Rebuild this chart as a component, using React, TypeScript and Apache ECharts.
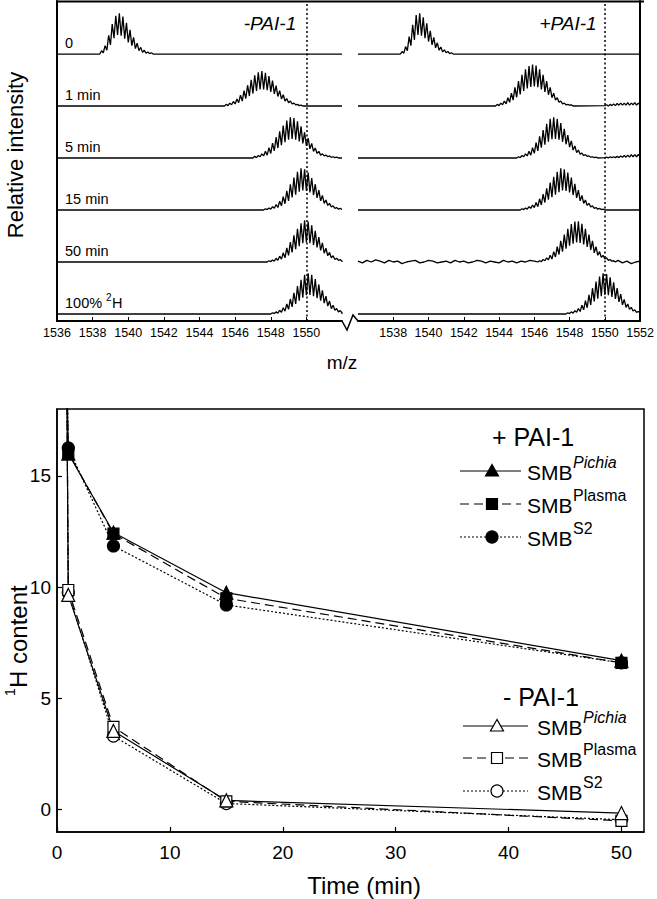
import React, { useEffect, useRef } from "react";
import * as echarts from "echarts";

const FONT = '"Liberation Sans", Arial, Helvetica, sans-serif';

// ---------------- Top panel: mass spectra ----------------
const mzMin = 1536;
const mzMax = 1552;
const mzInterval = 2;
const referenceMz = 1550;
const spectrumLabels = ["0", "1 min", "5 min", "15 min", "50 min", "100%"];

// Each envelope: first m/z, then alternating trough / peak intensities every 0.1 m/z (0-100)
const minusStart = [1538.4, 1545.4, 1547.0, 1547.6, 1547.8, 1548.0];
const minus0 = [0, 8, 3, 20, 9, 45, 22, 72, 38, 92, 46, 98, 44, 90, 37, 75, 28, 58, 20, 40, 13, 26, 8, 16, 4, 9, 2, 5, 1, 3, 0];
const minus1 = [0, 4, 1, 7, 3, 11, 5, 17, 8, 26, 12, 37, 18, 50, 24, 63, 30, 74, 36, 81, 40, 84, 40, 80, 38, 72, 34, 61, 29, 49, 23, 37, 17, 27, 12, 18, 8, 12, 5, 7, 3, 4, 1, 2, 0];
const minus5 = [0, 4, 1, 6, 3, 10, 5, 16, 7, 25, 11, 36, 17, 50, 24, 64, 31, 78, 38, 90, 44, 98, 46, 96, 44, 88, 40, 76, 35, 62, 29, 48, 22, 35, 16, 24, 11, 16, 7, 10, 5, 7, 3, 5, 2, 3, 1, 2, 0];
const minus15 = [0, 3, 1, 5, 2, 8, 4, 13, 6, 21, 10, 32, 15, 46, 22, 62, 30, 78, 37, 92, 44, 100, 47, 98, 46, 90, 42, 77, 36, 62, 29, 48, 22, 35, 16, 24, 11, 16, 7, 10, 4, 6, 2, 4, 1];
const minus50 = [0, 3, 1, 5, 2, 9, 4, 14, 7, 22, 10, 34, 16, 48, 23, 64, 31, 80, 38, 93, 45, 100, 47, 97, 45, 88, 41, 75, 35, 60, 28, 46, 21, 33, 15, 23, 10, 15, 6, 9, 4, 6, 2];
const minus100 = [0, 3, 1, 5, 2, 9, 4, 15, 7, 24, 11, 36, 17, 51, 24, 67, 32, 82, 39, 94, 45, 98, 46, 94, 43, 84, 38, 71, 32, 57, 26, 43, 19, 31, 13, 21, 9, 13, 5, 8, 3];

const plusStart = [1538.4, 1543.8, 1545.0, 1545.2, 1546.2, 1547.8];
const plus0 = [0, 6, 2, 18, 8, 42, 20, 70, 34, 94, 46, 98, 44, 88, 38, 74, 30, 56, 22, 40, 15, 27, 9, 17, 5, 10, 3, 6, 1, 3, 0];
const plus1 = [0, 4, 1, 7, 3, 12, 5, 20, 9, 31, 14, 45, 21, 60, 28, 75, 36, 88, 42, 96, 46, 100, 47, 97, 45, 88, 40, 75, 34, 60, 27, 45, 20, 31, 14, 20, 9, 12, 5, 7, 3, 4, 2, 3, 0];
const plus5 = [0, 3, 1, 6, 3, 10, 5, 16, 7, 25, 11, 37, 17, 52, 25, 67, 32, 82, 39, 94, 45, 98, 46, 94, 44, 84, 39, 70, 33, 55, 26, 41, 19, 29, 13, 19, 9, 12, 6, 8, 4, 5, 2, 3, 1, 2, 0];
const plus15 = [0, 3, 1, 5, 2, 8, 4, 12, 6, 18, 8, 27, 12, 38, 18, 52, 25, 66, 31, 80, 37, 92, 43, 100, 47, 98, 46, 90, 42, 78, 36, 63, 29, 48, 22, 35, 16, 24, 11, 16, 7, 10, 4, 6, 2, 4, 1, 2, 0];
const plus50 = [0, 3, 1, 6, 3, 10, 5, 16, 7, 25, 12, 37, 18, 51, 25, 66, 32, 80, 39, 91, 44, 97, 47, 98, 46, 92, 42, 80, 36, 66, 29, 51, 22, 37, 16, 25, 11, 16, 7, 10, 4, 6, 2, 3, 0];
const plus100 = [0, 3, 1, 5, 2, 8, 4, 13, 6, 21, 10, 32, 15, 46, 22, 62, 30, 78, 37, 90, 43, 98, 46, 96, 45, 88, 41, 76, 36, 62, 29, 48, 22, 35, 16, 24, 11, 16, 7, 10, 4, 6, 2];

// ripples after m/z 1550 (every 0.1 from 1550.0)
const plus1TailStart = 1550.0;
const plus1Tail = [1, 3, 0, 4, 1, 5, 1, 6, 2, 7, 2, 7, 2, 8, 2, 7, 3, 8, 2, 7, 3];
const plus5TailStart = 1550.0;
const plus5Tail = [1, 2, 0, 3, 1, 3, 1, 4, 1, 5, 2, 6, 2, 7, 2, 8, 3, 8, 3, 9, 3];
// noisy baseline of +PAI-1 50 min (every 0.25 m/z)
const plus50NoiseBeforeStart = 1536.0;
const plus50NoiseBefore = [2, -2, 4, 0, 5, 2, -2, 4, 0, 2, -4, 0, 2, 4, -2, 0, 4, 2, -2, 0, 2, -2, 4, 0, 2, -2, 0, 4, 2, -2, 2, 0, -2, 4, 0, 2, -2, 2, 0, 4, 2];
const plus50NoiseAfterStart = 1550.75;
const plus50NoiseAfter = [4, -2, 2, -4, 0, 2];

// ---------------- Bottom panel: 1H content ----------------
const timeMin = [1, 5, 15, 50];
const startTime = 0.86;
const startContent = 20;
const plusPichia = [16.0, 12.45, 9.75, 6.7];
const plusPlasma = [16.05, 12.4, 9.5, 6.6];
const plusS2 = [16.25, 11.85, 9.2, 6.6];
const minusPichia = [9.65, 3.54, 0.42, -0.15];
const minusPlasma = [9.87, 3.72, 0.38, -0.5];
const minusS2 = [9.75, 3.31, 0.28, -0.45];
const timeTicks = [0, 10, 20, 30, 40, 50];
const contentTicks = [0, 5, 10, 15];

// ---------------- helpers ----------------
const ROW_SCALE = 0.008; // intensity 100 -> 0.8 row
type Extra = { start: number; step: number; vals: number[] };

function spectrum(start: number, vals: number[], row: number, lead?: Extra, tail?: Extra) {
  const offset = 5 - row;
  const pts: number[][] = [];
  if (lead) lead.vals.forEach((v, i) => pts.push([lead.start + i * lead.step, v]));
  else pts.push([mzMin, 0]);
  vals.forEach((v, i) => pts.push([Math.round((start + i * 0.1) * 100) / 100, v]));
  if (tail) tail.vals.forEach((v, i) => pts.push([tail.start + i * tail.step, v]));
  else pts.push([mzMax, 0]);
  return pts.map(([x, v]) => [x, offset + v * ROW_SCALE]);
}

const minusSets = [minus0, minus1, minus5, minus15, minus50, minus100];
const plusSets = [plus0, plus1, plus5, plus15, plus50, plus100];

function specSeries(data: number[][], gridIdx: number, withMark: boolean) {
  const s: any = {
    type: "line",
    xAxisIndex: gridIdx,
    yAxisIndex: gridIdx,
    data,
    showSymbol: false,
    symbol: "none",
    clip: true,
    lineStyle: { color: "#000", width: 1.3 },
    silent: true,
    z: 3,
  };
  if (withMark) {
    s.markLine = {
      silent: true,
      symbol: "none",
      label: { show: false },
      lineStyle: { color: "#000", width: 1.5, type: [2, 2.5] },
      data: [{ xAxis: referenceMz }],
    };
  }
  return s;
}

function contentSeries(name: string, vals: number[], symbol: string, size: number, filled: boolean, dash: any) {
  const data: any[] = [{ value: [startTime, startContent], symbol: "none" }];
  timeMin.forEach((t, i) => data.push([t, vals[i]]));
  return {
    name,
    type: "line",
    xAxisIndex: 2,
    yAxisIndex: 2,
    data,
    symbol,
    symbolSize: size,
    showAllSymbol: true,
    clip: true,
    lineStyle: { color: "#000", width: 1.2, type: dash },
    itemStyle: { color: filled ? "#000" : "#fff", borderColor: "#000", borderWidth: 1.2 },
    z: 4,
  };
}

function marker(kind: string, x: number, y: number, filled: boolean) {
  const style = { fill: filled ? "#000" : "#fff", stroke: "#000", lineWidth: 1.2 };
  if (kind === "triangle")
    return { type: "polygon", shape: { points: [[x, y - 6.5], [x - 6.5, y + 5], [x + 6.5, y + 5]] }, style, z: 101 };
  if (kind === "rect")
    return { type: "rect", shape: { x: x - 5.5, y: y - 5.5, width: 11, height: 11 }, style, z: 101 };
  return { type: "circle", shape: { cx: x, cy: y, r: 6 }, style, z: 101 };
}

const legendDefs = [
  { sup: "Pichia", italic: true, kind: "triangle", dash: null as any },
  { sup: "Plasma", italic: false, kind: "rect", dash: [9, 5] },
  { sup: "S2", italic: false, kind: "circle", dash: [2, 2] },
];

function legendBlock(title: string, titleX: number, titleY: number, rowsY: number[], x1: number, x2: number, mx: number, tx: number, filled: boolean) {
  const els: any[] = [
    {
      type: "text",
      x: titleX,
      y: titleY,
      z: 101,
      style: { text: title, font: `25px ${FONT}`, fill: "#000", align: "center", verticalAlign: "middle" },
    },
  ];
  legendDefs.forEach((d, i) => {
    const y = rowsY[i];
    els.push({
      type: "line",
      z: 100,
      shape: { x1, y1: y, x2, y2: y },
      style: { stroke: "#000", lineWidth: 1.2, lineDash: d.dash },
    });
    els.push(marker(d.kind, mx, y, filled));
    els.push({
      type: "text",
      x: tx,
      y: y + 1,
      z: 101,
      style: { text: "SMB", font: `21px ${FONT}`, fill: "#000", align: "left", verticalAlign: "middle" },
    });
    els.push({
      type: "text",
      x: tx + 46,
      y: y - 9,
      z: 101,
      style: {
        text: d.sup,
        font: `${d.italic ? "italic " : ""}16px ${FONT}`,
        fill: "#000",
        align: "left",
        verticalAlign: "middle",
      },
    });
  });
  return els;
}

const plainNumber = (v: number) => String(v);

function buildOption() {
  const series: any[] = [];
  minusSets.forEach((vals, r) => series.push(specSeries(spectrum(minusStart[r], vals, r), 0, r === 0)));
  plusSets.forEach((vals, r) => {
    let lead: Extra | undefined;
    let tail: Extra | undefined;
    if (r === 1) tail = { start: plus1TailStart, step: 0.1, vals: plus1Tail };
    if (r === 2) tail = { start: plus5TailStart, step: 0.1, vals: plus5Tail };
    if (r === 4) {
      lead = { start: plus50NoiseBeforeStart, step: 0.25, vals: plus50NoiseBefore };
      tail = { start: plus50NoiseAfterStart, step: 0.25, vals: plus50NoiseAfter };
    }
    series.push(specSeries(spectrum(plusStart[r], vals, r, lead, tail), 1, r === 0));
  });

  series.push(contentSeries("+ Plasma", plusPlasma, "rect", 11, true, [9, 5]));
  series.push(contentSeries("+ S2", plusS2, "circle", 12, true, [2, 2]));
  series.push(contentSeries("+ Pichia", plusPichia, "triangle", 13, true, "solid"));
  series.push(contentSeries("- S2", minusS2, "circle", 12, false, [2, 2]));
  series.push(contentSeries("- Plasma", minusPlasma, "rect", 11, false, [9, 5]));
  series.push(contentSeries("- Pichia", minusPichia, "triangle", 13, false, "solid"));

  const topX = (gridIndex: number, hideMin: boolean) => ({
    gridIndex,
    type: "value",
    min: mzMin,
    max: mzMax,
    interval: mzInterval,
    axisLine: { show: true, onZero: false, lineStyle: { color: "#000", width: 2 } },
    axisTick: { show: true, inside: true, length: 4, lineStyle: { color: "#000", width: 1 } },
    axisLabel: {
      color: "#000",
      fontSize: 12.5,
      fontFamily: FONT,
      margin: 5,
      showMinLabel: !hideMin,
      showMaxLabel: hideMin,
      formatter: plainNumber,
    },
    splitLine: { show: false },
  });
  const topY = (gridIndex: number, position: string) => ({
    gridIndex,
    type: "value",
    min: -0.135,
    max: 6.02,
    position,
    axisLine: { show: true, onZero: false, lineStyle: { color: "#000", width: 2 } },
    axisTick: { show: false },
    axisLabel: { show: false },
    splitLine: { show: false },
  });

  const rowLabelEls: any[] = spectrumLabels.slice(0, 5).map((t, r) => ({
    type: "text",
    x: 65,
    y: 43 + 52 * r,
    z: 100,
    style: { text: t, font: `14.5px ${FONT}`, fill: "#000", align: "left", verticalAlign: "middle" },
  }));
  rowLabelEls.push(
    { type: "text", x: 65, y: 303, z: 100, style: { text: spectrumLabels[5], font: `14.5px ${FONT}`, fill: "#000", align: "left", verticalAlign: "middle" } },
    { type: "text", x: 106, y: 297, z: 100, style: { text: "2", font: `10px ${FONT}`, fill: "#000", align: "left", verticalAlign: "middle" } },
    { type: "text", x: 112, y: 303, z: 100, style: { text: "H", font: `14.5px ${FONT}`, fill: "#000", align: "left", verticalAlign: "middle" } }
  );

  const graphic: any[] = [
    { type: "line", z: 100, shape: { x1: 56, y1: 1.5, x2: 644, y2: 1.5 }, style: { stroke: "#000", lineWidth: 2 } },
    {
      type: "polyline",
      z: 100,
      shape: { points: [[342, 321], [347, 330], [353, 315], [358, 321]] },
      style: { stroke: "#000", lineWidth: 1.5, fill: null },
    },
    ...rowLabelEls,
    { type: "text", x: 270, y: 23, z: 100, style: { text: "-PAI-1", font: `italic 19px ${FONT}`, fill: "#000", align: "center", verticalAlign: "middle" } },
    { type: "text", x: 568, y: 23, z: 100, style: { text: "+PAI-1", font: `italic 19px ${FONT}`, fill: "#000", align: "center", verticalAlign: "middle" } },
    { type: "text", x: 15, y: 155, rotation: Math.PI / 2, z: 100, style: { text: "Relative intensity", font: `22px ${FONT}`, fill: "#000", align: "center", verticalAlign: "middle" } },
    { type: "text", x: 342, y: 362, z: 100, style: { text: "m/z", font: `19px ${FONT}`, fill: "#000", align: "center", verticalAlign: "middle" } },
    {
      type: "group",
      x: 18,
      y: 688,
      rotation: Math.PI / 2,
      z: 100,
      children: [
        { type: "text", x: 0, y: 0, style: { text: "H content", font: `24px ${FONT}`, fill: "#000", align: "left", verticalAlign: "middle" } },
        { type: "text", x: -8, y: -8, style: { text: "1", font: `14px ${FONT}`, fill: "#000", align: "left", verticalAlign: "middle" } },
      ],
    },
    { type: "text", x: 364, y: 885, z: 100, style: { text: "Time (min)", font: `24px ${FONT}`, fill: "#000", align: "center", verticalAlign: "middle" } },
    ...legendBlock("+ PAI-1", 533, 437, [471, 504, 537], 460, 521, 492, 527, true),
    ...legendBlock("- PAI-1", 541, 697, [726, 758, 791], 463, 528, 497, 537, false),
  ];

  return {
    animation: false,
    backgroundColor: "#fff",
    grid: [
      { left: 57, top: 1, width: 285, height: 320 },
      { left: 358, top: 1, width: 285, height: 320 },
      { left: 57, top: 409, width: 587, height: 423, show: true, borderColor: "#000", borderWidth: 1.5, backgroundColor: "transparent" },
    ],
    xAxis: [
      topX(0, false),
      topX(1, true),
      {
        gridIndex: 2,
        type: "value",
        min: 0,
        max: 52,
        axisLine: { show: true, onZero: false, lineStyle: { color: "#000", width: 1.5 } },
        axisTick: { show: true, inside: true, length: 5, customValues: timeTicks, lineStyle: { color: "#000", width: 1.2 } },
        axisLabel: { color: "#000", fontSize: 19, fontFamily: FONT, margin: 11, customValues: timeTicks, formatter: plainNumber },
        splitLine: { show: false },
      },
    ],
    yAxis: [
      topY(0, "left"),
      topY(1, "right"),
      {
        gridIndex: 2,
        type: "value",
        min: -1,
        max: 18,
        axisLine: { show: true, onZero: false, lineStyle: { color: "#000", width: 1.5 } },
        axisTick: { show: true, inside: true, length: 5, customValues: contentTicks, lineStyle: { color: "#000", width: 1.2 } },
        axisLabel: { color: "#000", fontSize: 19, fontFamily: FONT, margin: 6, customValues: contentTicks, formatter: plainNumber },
        splitLine: { show: false },
      },
    ],
    series,
    graphic,
  };
}

export default function App() {
  const ref = useRef<HTMLDivElement>(null);
  useEffect(() => {
    if (!ref.current) return;
    const chart = echarts.init(ref.current, null, { renderer: "svg" });
    chart.setOption(buildOption() as any);
    return () => chart.dispose();
  }, []);
  return <div ref={ref} style={{ position: "absolute", left: 0, top: 0, width: 657, height: 899, background: "#fff" }} />;
}
